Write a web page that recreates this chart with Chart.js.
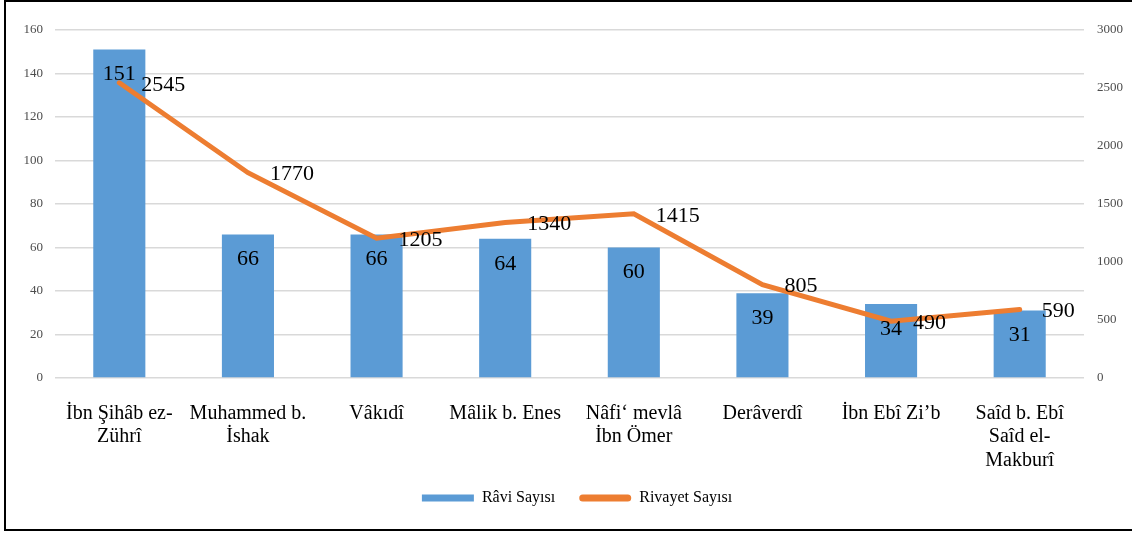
<!DOCTYPE html>
<html>
<head>
<meta charset="utf-8">
<script src="https://cdn.jsdelivr.net/npm/chart.js@4"></script>
<style>
  html, body { margin: 0; padding: 0; background: #fff; }
  #wrap { position: relative; width: 1132px; height: 534px; overflow: hidden; }
  #frame {
    position: absolute; left: 4px; top: 0; width: 1140px; height: 531px;
    box-sizing: border-box; border: 2px solid #000; border-right: none;
    pointer-events: none;
  }
</style>
</head>
<body>
<div id="wrap">
  <canvas id="myChart" width="1132" height="534"></canvas>
  <div id="frame"></div>
</div>
<script>
    // Dữ liệu biểu đồ
    const categories = [
        ['İbn Şihâb ez-', 'Zührî'],
        ['Muhammed b.', 'İshak'],
        'Vâkıdî',
        'Mâlik b. Enes',
        ['Nâfi‘ mevlâ', 'İbn Ömer'],
        'Derâverdî',
        'İbn Ebî Zi’b',
        ['Saîd b. Ebî', 'Saîd el-', 'Makburî']
    ];
    const raviSayisi = [151, 66, 66, 64, 60, 39, 34, 31];
    const rivayetSayisi = [2545, 1770, 1205, 1340, 1415, 805, 490, 590];
    const leftTicks = [0, 20, 40, 60, 80, 100, 120, 140, 160];
    const rightTicks = [0, 500, 1000, 1500, 2000, 2500, 3000];

    const serif = '"Liberation Serif", "Times New Roman", serif';
    const blue = '#5B9BD5';
    const orange = '#ED7D31';

    // Vẽ nhãn giá trị lên cột và đường
    const valueLabels = {
        id: 'valueLabels',
        afterDatasetsDraw(chart) {
            const ctx = chart.ctx;
            ctx.save();
            ctx.font = '22px ' + serif;
            ctx.fillStyle = '#000';
            ctx.textBaseline = 'middle';
            chart.getDatasetMeta(1).data.forEach((bar, i) => {
                ctx.textAlign = 'center';
                ctx.fillText(raviSayisi[i], bar.x, bar.y + 25);
            });
            chart.getDatasetMeta(0).data.forEach((pt, i) => {
                ctx.textAlign = 'left';
                ctx.fillText(rivayetSayisi[i], pt.x + 22, pt.y + 2);
            });
            ctx.restore();
        }
    };

    const ctx = document.getElementById('myChart');
    new Chart(ctx, {
        data: {
            labels: categories,
            datasets: [{
                type: 'line',
                label: 'Rivayet Sayısı',
                data: rivayetSayisi,
                yAxisID: 'y1',
                borderColor: orange,
                backgroundColor: orange,
                borderWidth: 5,
                borderCapStyle: 'round',
                pointRadius: 0,
                tension: 0,
                order: 1
            }, {
                type: 'bar',
                label: 'Râvi Sayısı',
                data: raviSayisi,
                yAxisID: 'y',
                backgroundColor: blue,
                categoryPercentage: 1,
                barPercentage: 0.405,
                order: 2
            }]
        },
        options: {
            responsive: false,
            devicePixelRatio: 1,
            animation: false,
            layout: { padding: { top: 30, left: 22, right: 0, bottom: 18 } },
            scales: {
                x: {
                    grid: { display: false },
                    border: { display: false },
                    ticks: {
                        color: '#000',
                        font: { family: serif, size: 20, lineHeight: 1.17 },
                        padding: 16,
                        maxRotation: 0,
                        autoSkip: false
                    },
                    afterFit(scale) { scale.height = 88; }
                },
                y: {
                    position: 'left',
                    min: 0,
                    max: 160,
                    afterBuildTicks(scale) { scale.ticks = leftTicks.map(v => ({ value: v })); },
                    grid: { color: '#D9D9D9', lineWidth: 1.5, drawTicks: false },
                    border: { display: false },
                    ticks: {
                        color: '#4D4D4D',
                        font: { family: serif, size: 13 },
                        padding: 12,
                        callback: v => String(v)
                    },
                    afterFit(scale) { scale.width = 33; }
                },
                y1: {
                    position: 'right',
                    min: 0,
                    max: 3000,
                    afterBuildTicks(scale) { scale.ticks = rightTicks.map(v => ({ value: v })); },
                    grid: { display: false, drawTicks: false },
                    border: { display: false },
                    ticks: {
                        color: '#4D4D4D',
                        font: { family: serif, size: 13 },
                        padding: 13,
                        callback: v => String(v)
                    },
                    afterFit(scale) { scale.width = 48; }
                }
            },
            plugins: {
                tooltip: { enabled: false },
                legend: {
                    position: 'bottom',
                    labels: {
                        color: '#000',
                        font: { family: serif, size: 16 },
                        boxWidth: 52,
                        boxHeight: 7,
                        padding: 24,
                        useBorderRadius: true,
                        generateLabels: () => [
                            { text: 'Râvi Sayısı', fillStyle: blue, strokeStyle: blue, lineWidth: 0, borderRadius: 0, datasetIndex: 1 },
                            { text: 'Rivayet Sayısı', fillStyle: orange, strokeStyle: orange, lineWidth: 0, borderRadius: 3.5, datasetIndex: 0 }
                        ]
                    }
                }
            }
        },
        plugins: [valueLabels]
    });
</script>
</body>
</html>
